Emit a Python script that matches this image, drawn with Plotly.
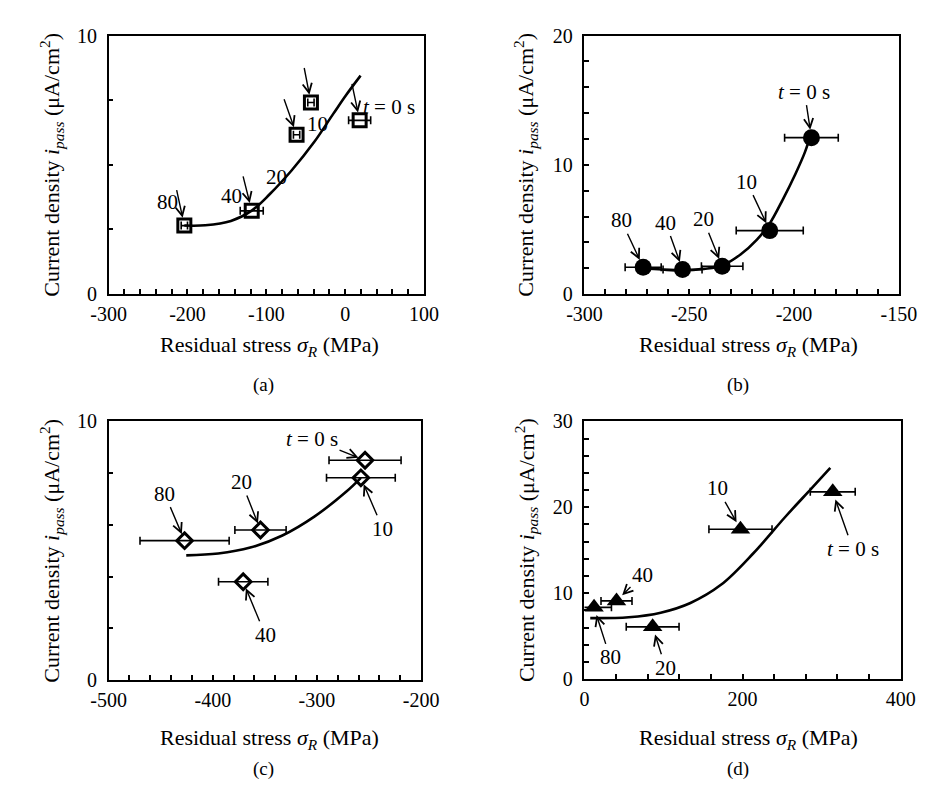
import plotly.graph_objects as go

W, H = 929, 788
FONT = "Liberation Serif, Times New Roman, Times, serif"

# ---------------- data ----------------
labels = ["80", "40", "20", "10", "<i>t</i> = 0 s"]

# (a)
a_x = [-204, -118.5, -61.6, -43.4, 18.4]
a_y = [2.65, 3.22, 6.16, 7.41, 6.72]
a_err = [4, 14.6, 4, 4, 14]
a_fit_x = [-204, -177.4, -144.9, -118.5, -96.1, -67.7, -39.3, -14.9, 1.3, 19.6]
a_fit_y = [2.65, 2.66, 2.83, 3.23, 3.85, 4.79, 5.88, 6.98, 7.70, 8.45]

# (b)
b_x = [-272, -253.2, -234.3, -211.6, -191.7]
b_y = [2.08, 1.9, 2.15, 4.91, 12.1]
b_err = [8.6, 9.3, 9.9, 16, 12.8]
b_fit_x = [-272.0, -263.0, -253.2, -243.0, -234.3, -225.4, -217.7, -211.6, -205.5, -199.4, -194.8, -193.0]
b_fit_y = [2.0, 1.9, 1.83, 1.95, 2.21, 3.08, 4.21, 5.46, 7.27, 9.27, 10.98, 11.85]

# (c)
c_x = [-427.1, -370.8, -354.2, -257.8, -253.8]
c_y = [5.39, 3.8, 5.8, 7.82, 8.5]
c_err = [42.8, 23.7, 24.6, 33, 34.6]
c_fit_x = [-425.5, -394.8, -364.0, -333.2, -302.5, -271.7, -257.8]
c_fit_y = [4.82, 4.89, 5.12, 5.59, 6.32, 7.29, 7.82]

# (d)
d_x = [12.1, 40.5, 86.2, 197.3, 314]
d_y = [8.35, 9.1, 6.08, 17.44, 21.8]
d_err = [22, 19.6, 33.4, 39.9, 28.4]
d_fit_x = [7.3, 55.9, 96.4, 134.0, 173.0, 213.6, 254.1, 286.6, 310.9]
d_fit_y = [7.1, 7.2, 7.73, 8.86, 11.0, 14.65, 18.9, 22.15, 24.58]

# axis tick labels
a_xticks = [-300, -200, -100, 0, 100]
a_yticks = [0, 10]
b_xticks = [-300, -250, -200, -150]
b_yticks = [0, 10, 20]
c_xticks = [-500, -400, -300, -200]
c_yticks = [0, 10]
d_xticks = [0, 200, 400]
d_yticks = [0, 10, 20, 30]

captions = ["(a)", "(b)", "(c)", "(d)"]
xtitle = "Residual stress <i>σ</i><sub><i>R</i></sub> (MPa)"
ytitle = "Current density <i>i</i><sub><i>pass</i></sub> (μA/cm<sup>2</sup>)"

# ---------------- figure ----------------
fig = go.Figure()


def px2x(px):
    return px / W


def px2y(py):
    return 1 - py / H


panels = [
    dict(x=a_x, y=a_y, err=a_err, fx=a_fit_x, fy=a_fit_y,
         sym="square-open", size=13, mlw=3, xr=[-300, 100], yr=[0, 10],
         xt=a_xticks, yt=a_yticks, xm=20, ym=2.5, box=(86, 414, 17, 283),
         tails=[(-8, -37), (-9, -36), (-13, -37), (-7, -36), (-8, -38)],
         offs=[(-17, -24), (-20, -15), (-20, 42), (7, 22), (29, -13)], so=8,
         combined=False),
    dict(x=b_x, y=b_y, err=b_err, fx=b_fit_x, fy=b_fit_y,
         sym="circle", size=17, mlw=0, xr=[-300, -150], yr=[0, 20],
         xt=b_xticks, yt=b_yticks, xm=10, ym=2, box=(581, 908, 17, 283),
         offs=[(-22, -47), (-17, -47), (-19, -47), (-23, -49), (-7, -46)], so=8,
         combined=True),
    dict(x=c_x, y=c_y, err=c_err, fx=c_fit_x, fy=c_fit_y,
         sym="diamond-open", size=12, mlw=3, xr=[-500, -200], yr=[0, 10],
         xt=c_xticks, yt=c_yticks, xm=20, ym=2, box=(86, 411, 414, 680),
         offs=[(-20, -47), (22, 53), (-19, -48), (22, 51), (-53, -21)], so=7,
         combined=True),
    dict(x=d_x, y=d_y, err=d_err, fx=d_fit_x, fy=d_fit_y,
         sym="triangle-up", size=17, mlw=0, xr=[0, 400], yr=[0, 30],
         xt=d_xticks, yt=d_yticks, xm=40, ym=2, box=(581, 910, 414, 679),
         offs=[(16, 50), (26, -26), (13, 41), (-23, -41), (20, 57)], so=8,
         combined=True),
]

tickfont = dict(family=FONT, size=20, color="black")
lblfont = dict(family=FONT, size=21, color="black")
arrow = dict(showarrow=True, arrowhead=5, arrowsize=1.3, arrowwidth=1.4, arrowcolor="black")
annotations = []

for i, p in enumerate(panels):
    n = "" if i == 0 else str(i + 1)
    xa, ya = "x" + n, "y" + n
    fig.add_trace(go.Scatter(x=p["fx"], y=p["fy"], mode="lines", xaxis=xa, yaxis=ya,
                             line=dict(color="black", width=2.6, shape="spline", smoothing=1.0),
                             hoverinfo="skip"))
    fig.add_trace(go.Scatter(x=p["x"], y=p["y"], mode="markers", xaxis=xa, yaxis=ya,
                             marker=dict(symbol=p["sym"], size=p["size"], color="black",
                                         line=dict(color="black", width=p["mlw"])),
                             error_x=dict(type="data", array=p["err"], color="black",
                                          thickness=1.6, width=4)))
    x0, x1, y0, y1 = p["box"]
    common = dict(ticks="inside", ticklen=5, tickwidth=1.5, tickcolor="black",
                  showline=True, linecolor="black", linewidth=1.5, mirror=True,
                  showgrid=False, zeroline=False, tickfont=tickfont, fixedrange=True)
    fig.layout["xaxis" + n] = dict(
        domain=[px2x(x0), px2x(x1)], range=p["xr"], anchor=ya,
        tickvals=p["xt"], ticktext=[str(v) for v in p["xt"]], ticklabelstandoff=1,
        minor=dict(dtick=p["xm"], ticks="inside", ticklen=5, tickwidth=1.5,
                   tickcolor="black", showgrid=False), **common)
    fig.layout["yaxis" + n] = dict(
        domain=[px2y(y1), px2y(y0)], range=p["yr"], anchor=xa,
        tickvals=p["yt"], ticktext=[str(v) for v in p["yt"]], ticklabelstandoff=6,
        minor=dict(dtick=p["ym"], ticks="inside", ticklen=5, tickwidth=1.5,
                   tickcolor="black", showgrid=False), **common)

    for k in range(len(p["x"])):
        ox, oy = p["offs"][k]
        if p["combined"]:
            annotations.append(dict(x=p["x"][k], y=p["y"][k], xref=xa, yref=ya,
                                    ax=ox, ay=oy, text=labels[k], standoff=p["so"],
                                    font=lblfont, **arrow))
        else:
            tx, ty = p["tails"][k]
            annotations.append(dict(x=p["x"][k], y=p["y"][k], xref=xa, yref=ya,
                                    ax=tx, ay=ty, text="", standoff=p["so"], **arrow))
            annotations.append(dict(x=p["x"][k], y=p["y"][k], xref=xa, yref=ya,
                                    xshift=ox, yshift=-oy, text=labels[k], showarrow=False,
                                    font=lblfont, xanchor="center", yanchor="middle"))

    row_top = y0 < 100
    left = x0 < 300
    ytx = 27 if left else 520
    yty = (y0 + y1) / 2
    xtx = 253 if left else 752
    xty = 336 if row_top else 741
    capx = 247 if left else 741
    capy = 376 if row_top else 772
    annotations.append(dict(x=px2x(ytx), y=px2y(yty), xref="paper", yref="paper",
                            text=ytitle, textangle=-90, showarrow=False,
                            font=dict(family=FONT, size=22, color="black"),
                            xanchor="center", yanchor="middle"))
    annotations.append(dict(x=px2x(xtx), y=px2y(xty), xref="paper", yref="paper",
                            text=xtitle, showarrow=False,
                            font=dict(family=FONT, size=22, color="black"),
                            xanchor="center", yanchor="middle"))
    annotations.append(dict(x=px2x(capx), y=px2y(capy), xref="paper", yref="paper",
                            text=captions[i], showarrow=False,
                            font=dict(family=FONT, size=19, color="black"),
                            xanchor="center", yanchor="middle"))

fig.update_layout(width=W, height=H, margin=dict(l=0, r=0, t=0, b=0),
                  paper_bgcolor="white", plot_bgcolor="white",
                  showlegend=False, annotations=annotations)

fig.write_html("out.html")
